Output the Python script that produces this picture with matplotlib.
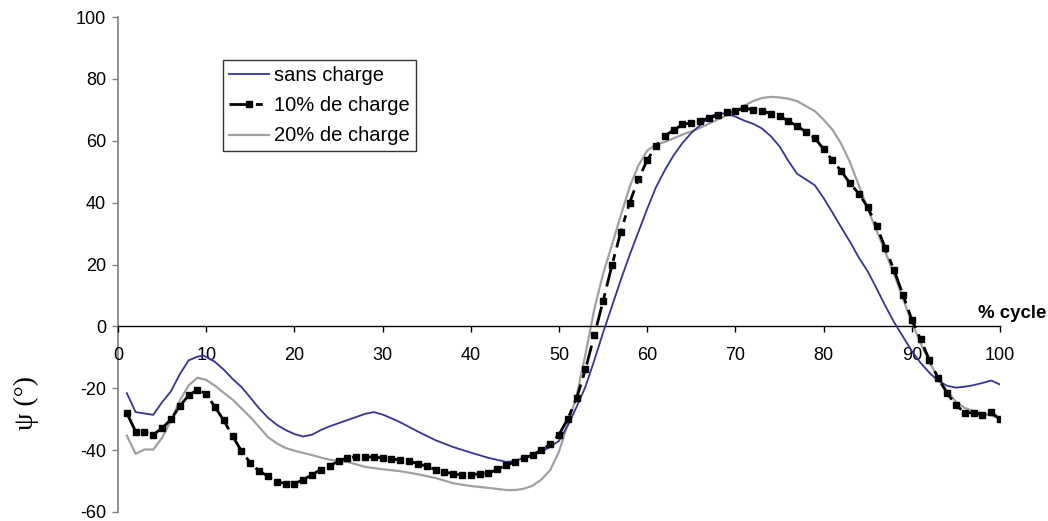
import matplotlib
matplotlib.use("Agg")
import matplotlib.pyplot as plt

# ---- data ----
blue_x = [1, 2, 4, 5, 6, 7, 8, 9, 9.7, 11, 12, 13, 14, 15, 16, 17, 18, 19, 20, 21,
          22, 23, 24, 25, 26, 27, 28, 29, 30, 31, 32, 34, 36, 38, 40, 42, 44, 45, 46,
          47, 48, 49, 50, 51, 52, 53, 54, 55, 56, 57, 58, 59, 60, 61, 62, 63, 64, 65,
          66, 67, 68, 69, 70, 71, 72, 73, 74, 75, 76, 77, 78, 79, 80, 81, 82, 83, 84,
          85, 86, 87, 88, 89, 90, 91, 92, 93, 94, 95, 96, 97, 98, 99, 100]
blue_y = [-21.6, -27.7, -28.6, -24.5, -21.0, -15.5, -11.0, -9.8, -9.4, -11.5, -14.0,
          -17.0, -19.6, -23.0, -26.5, -29.5, -31.8, -33.5, -34.8, -35.6, -35.0, -33.5,
          -32.3, -31.3, -30.3, -29.3, -28.3, -27.7, -28.5, -29.7, -31.0, -34.0, -36.8,
          -39.0, -40.8, -42.5, -43.8, -43.5, -42.5, -41.5, -40.5, -39.0, -37.0, -32.0,
          -26.0, -19.5, -11.0, -2.0, 6.5, 15.0, 23.0, 30.5, 38.0, 45.0, 50.5, 55.3,
          59.3, 62.5, 65.0, 67.5, 69.0, 68.7, 67.8, 66.5, 65.5, 64.0, 61.5, 58.2, 53.5,
          49.3, 47.5, 45.6, 41.5, 36.8, 32.0, 27.3, 22.2, 17.8, 12.3, 6.6, 1.3, -3.3,
          -8.0, -11.8, -15.0, -17.6, -19.2, -19.8, -19.5, -19.0, -18.3, -17.5, -18.8]

black_x = list(range(1, 101))
black_y = [-28.0, -34.0, -34.0, -35.0, -32.9, -30.1, -25.8, -22.3, -20.5, -21.8,
           -26.1, -30.4, -35.5, -40.3, -44.1, -46.8, -48.4, -50.2, -50.8, -50.8,
           -49.6, -47.9, -46.3, -45.0, -43.6, -42.5, -42.1, -42.1, -42.3, -42.5,
           -42.8, -43.2, -43.5, -44.4, -45.2, -46.3, -47.0, -47.7, -48.0, -47.9,
           -47.7, -47.5, -46.2, -44.9, -43.8, -42.7, -41.5, -40.0, -38.1, -35.0,
           -29.9, -23.2, -13.9, -2.9, 8.2, 19.7, 30.5, 39.9, 47.6, 53.7,
           58.3, 61.6, 63.4, 65.3, 65.8, 66.4, 67.4, 68.2, 69.2, 69.7,
           70.5, 70.1, 69.7, 68.8, 68.0, 66.4, 64.7, 62.9, 60.9, 57.3,
           53.7, 50.2, 46.2, 42.9, 38.5, 32.5, 25.3, 18.1, 10.2, 2.2,
           -4.2, -10.9, -16.8, -21.6, -25.4, -27.9, -27.9, -28.6, -27.7, -30.1]

gray_x = [1, 2, 3, 4, 5, 6, 7, 8, 9, 10, 11, 12, 13, 14, 15, 16, 17, 18, 19, 20, 21,
          22, 23, 24, 25, 26, 27, 28, 29, 30, 32, 34, 36, 38, 40, 42, 44, 45, 46, 47,
          48, 49, 50, 51, 52, 53, 54, 55, 56, 57, 58, 59, 60, 61, 62, 63, 64, 65, 66,
          67, 68, 69, 70, 71, 72, 73, 74, 75, 76, 77, 78, 79, 80, 81, 82, 83, 84, 85,
          86, 87, 88, 89, 90, 91, 92, 93, 94, 95, 96, 97, 98, 99, 100]
gray_y = [-35.3, -41.2, -39.8, -39.8, -36.0, -30.5, -24.0, -19.1, -16.6, -17.3, -19.2,
          -21.5, -23.7, -26.5, -29.3, -32.5, -35.8, -37.8, -39.3, -40.2, -40.9, -41.6,
          -42.4, -43.1, -43.4, -43.8, -44.6, -45.4, -45.8, -46.2, -46.8, -47.8, -49.0,
          -50.7, -51.6, -52.2, -52.9, -52.9, -52.5, -51.5, -49.5, -46.5, -40.5, -31.5,
          -22.5, -9.0, 5.5, 17.0, 26.3, 35.8, 45.0, 52.0, 56.8, 58.8, 59.6, 60.8, 62.0,
          63.0, 64.2, 65.5, 66.9, 68.2, 69.8, 71.3, 72.8, 73.8, 74.2, 74.0, 73.6, 72.8,
          71.2, 69.6, 66.8, 63.6, 59.0, 53.0, 45.5, 38.0, 31.0, 24.0, 16.8, 9.0, 1.3,
          -5.5, -11.5, -16.8, -21.0, -24.3, -26.4, -27.3, -28.2, -28.8, -29.9]

labels = ["sans charge", "10% de charge", "20% de charge"]
x_ticks = [0, 10, 20, 30, 40, 50, 60, 70, 80, 90, 100]
y_ticks = [-60, -40, -20, 0, 20, 40, 60, 80, 100]

# ---- figure ----
plt.rcParams['font.family'] = ['Liberation Sans', 'DejaVu Sans']
plt.rcParams['axes.unicode_minus'] = False
fig = plt.figure(figsize=(10.48, 5.21), dpi=100)
ax = fig.add_axes([118 / 1048, 1 - 512 / 521, 882 / 1048, 495 / 521])

ax.plot(blue_x, blue_y, color='#333399', lw=1.3, label=labels[0], zorder=3)
ax.plot(black_x, black_y, color='black', lw=2.0, linestyle=(0, (7, 2.5, 2.5, 2.5)),
        marker='s', markersize=4.2, markerfacecolor='black', markeredgecolor='black',
        label=labels[1], zorder=4)
ax.plot(gray_x, gray_y, color='#a0a0a0', lw=1.6, label=labels[2], zorder=2)

ax.set_xlim(0, 100)
ax.set_ylim(-60, 100)
ax.set_xticks(x_ticks)
ax.set_yticks(y_ticks)

ax.spines['top'].set_visible(False)
ax.spines['right'].set_visible(False)
ax.spines['bottom'].set_position(('data', 0))
ax.spines['bottom'].set_color('black')
ax.spines['bottom'].set_linewidth(1.0)
ax.spines['left'].set_color('#808080')
ax.spines['left'].set_linewidth(1.2)
ax.spines['left'].set_zorder(1)

ax.tick_params(axis='x', direction='out', length=4.5, width=1, pad=10.5,
               labelsize=13, colors='black')
ax.tick_params(axis='y', direction='out', length=4.5, width=1, pad=4,
               labelsize=13, color='#808080', labelcolor='black')

ax.text(101.4, 4.2, "% cycle", fontsize=13.4, fontweight='bold', ha='center',
        va='center', clip_on=False)
fig.text(26 / 1048, 1 - 403 / 521, "ψ (°)", rotation=90, ha='center', va='center',
         fontsize=20, family=['Liberation Serif', 'DejaVu Serif'])

leg = ax.legend(loc='upper left', bbox_to_anchor=(0.119, 0.913), frameon=True,
                fancybox=False, edgecolor='black', fontsize=14.5, numpoints=1,
                handlelength=2.0, handletextpad=0.25, borderpad=0.3,
                labelspacing=0.55, borderaxespad=0, handleheight=0.6)
leg.get_frame().set_linewidth(1.0)

fig.savefig("out.png", dpi=100, facecolor='white')
